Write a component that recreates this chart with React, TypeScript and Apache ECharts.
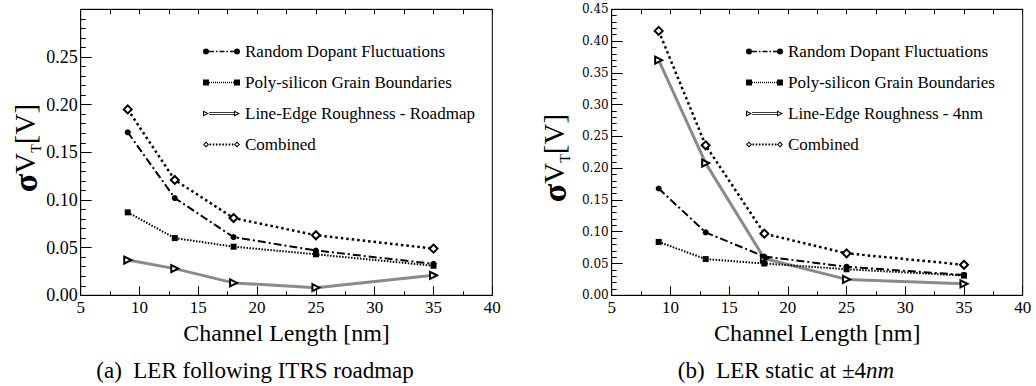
import React, { useEffect, useRef } from "react";
import * as echarts from "echarts";

const channelLengths = [9, 13, 18, 25, 35];
const xTicks = [5, 10, 15, 20, 25, 30, 35, 40];

// (a) LER following ITRS roadmap
const rdfA = [0.171, 0.102, 0.061, 0.047, 0.033];
const pgbA = [0.087, 0.060, 0.051, 0.043, 0.031];
const lerA = [0.037, 0.028, 0.013, 0.008, 0.021];
const combA = [0.195, 0.121, 0.081, 0.063, 0.049];

// (b) LER static at ±4nm
const rdfB = [0.168, 0.099, 0.061, 0.045, 0.032];
const pgbB = [0.084, 0.057, 0.050, 0.041, 0.031];
const lerB = [0.370, 0.208, 0.058, 0.025, 0.018];
const combB = [0.416, 0.236, 0.097, 0.066, 0.048];

const namesA = ["Random Dopant Fluctuations", "Poly-silicon Grain Boundaries", "Line-Edge Roughness - Roadmap", "Combined"];
const namesB = ["Random Dopant Fluctuations", "Poly-silicon Grain Boundaries", "Line-Edge Roughness - 4nm", "Combined"];

const SERIF = "Liberation Serif";

function pairs(ys: number[]) {
  return channelLengths.map((x, i) => [x, ys[i]]);
}

// ---- legend icon path helpers (icon box 37 x 6) ----
const r2 = (n: number) => Math.round(n * 100) / 100;
function rectP(x: number, y: number, w: number, h: number) {
  return `M${r2(x)} ${r2(y)}L${r2(x + w)} ${r2(y)}L${r2(x + w)} ${r2(y + h)}L${r2(x)} ${r2(y + h)}Z`;
}
function circleP(cx: number, cy: number, r: number) {
  return `M${cx - r} ${cy}A${r} ${r} 0 1 0 ${cx + r} ${cy}A${r} ${r} 0 1 0 ${cx - r} ${cy}Z`;
}
function dashP(x0: number, x1: number, cy: number, t: number, pattern: number[]) {
  let s = "";
  let x = x0;
  let i = 0;
  while (x < x1 - 0.2) {
    const len = pattern[i % pattern.length];
    if (i % 2 === 0) {
      const w = Math.min(len, x1 - x);
      s += rectP(x, cy - t / 2, w, t);
    }
    x += len;
    i++;
  }
  return s;
}
function triP(x: number) {
  return `M${x} 0L${x + 6} 3L${x} 6Z` + `M${x + 1} 1.7L${x + 1} 4.3L${x + 3.9} 3Z`;
}
function diaP(x: number) {
  return `M${x + 3} 0L${x + 6} 3L${x + 3} 6L${x} 3Z` + `M${x + 3} 1.4L${x + 1.4} 3L${x + 3} 4.6L${x + 4.6} 3Z`;
}
const legendIcons = [
  "path://" + circleP(3, 3, 3) + dashP(6, 31, 3, 1.6, [5, 2, 1.5, 2]) + circleP(34, 3, 3),
  "path://" + rectP(0, 0, 6, 6) + dashP(6, 31, 3, 1.6, [1, 1]) + rectP(31, 0, 6, 6),
  "path://" + triP(0) + rectP(6, 1.8, 25, 0.7) + rectP(6, 3.5, 25, 0.7) + triP(31),
  "path://" + diaP(0) + dashP(6.5, 31, 3, 2, [1.6, 1.6]) + diaP(31),
];

type Cfg = {
  names: string[];
  data: number[][];
  yMax: number;
  showMaxLabel: boolean;
  yLabelFont: string;
  yLabelSize: number;
  grid: { left: number; right: number; top: number; bottom: number };
  legendLeft: number;
  yNameX: number;
  yNameY: number;
  caption: any;
  captionX: number;
};

function buildOption(c: Cfg) {
  const styles = [
    { line: { type: [8, 3, 2, 3], width: 2, color: "#000" }, symbol: "circle", size: 6, item: { color: "#000" } },
    { line: { type: [1.5, 1.5], width: 2, color: "#000" }, symbol: "rect", size: 6, item: { color: "#000" } },
    { line: { type: "solid", width: 3, color: "#8a8a8a" }, symbol: "emptyTriangle", size: 7, item: { color: "#000", borderWidth: 1 }, rotate: -90 },
    { line: { type: [2.5, 3], width: 2.5, color: "#000" }, symbol: "emptyDiamond", size: 8, item: { color: "#000", borderWidth: 1 } },
  ];
  const series = c.names.map((n, i) => ({
    type: "line",
    name: n,
    xAxisIndex: 0,
    yAxisIndex: 0,
    data: pairs(c.data[i]),
    symbol: styles[i].symbol,
    symbolSize: styles[i].size,
    symbolRotate: (styles[i] as any).rotate || 0,
    showAllSymbol: true,
    lineStyle: styles[i].line,
    itemStyle: styles[i].item,
    emphasis: { disabled: true },
    z: i === 2 ? 1 : 2,
  }));
  const xBase = {
    type: "value",
    min: 5,
    max: 40,
    interval: 5,
    splitLine: { show: false },
    axisLine: { show: true, onZero: false, lineStyle: { color: "#000", width: 1 } },
  };
  return {
    animation: false,
    backgroundColor: "#fff",
    textStyle: { fontFamily: SERIF },
    grid: { ...c.grid, show: true, borderColor: "#000", borderWidth: 1, backgroundColor: "transparent" },
    xAxis: [
      {
        ...xBase,
        position: "bottom",
        axisTick: { show: true, inside: true, length: 9, lineStyle: { color: "#000" } },
        minorTick: { show: true, splitNumber: 2, length: 4, lineStyle: { color: "#000" } },
        axisLabel: {
          show: true,
          margin: 4,
          color: "#000",
          fontFamily: SERIF,
          fontSize: 17,
          formatter: (v: number) => (xTicks.includes(v) ? String(v) : ""),
        },
        name: "Channel Length [nm]",
        nameLocation: "middle",
        nameGap: 19,
        nameTextStyle: { color: "#000", fontFamily: SERIF, fontSize: 24, verticalAlign: "top" },
      },
      {
        ...xBase,
        position: "top",
        axisTick: { show: true, inside: true, length: 5, lineStyle: { color: "#000" } },
        minorTick: { show: true, splitNumber: 2, length: 5, lineStyle: { color: "#000" } },
        axisLabel: { show: false },
      },
    ],
    yAxis: [
      {
        type: "value",
        min: 0,
        max: c.yMax,
        interval: 0.05,
        splitLine: { show: false },
        axisLine: { show: true, onZero: false, lineStyle: { color: "#000", width: 1 } },
        axisTick: { show: true, inside: true, length: 11, lineStyle: { color: "#000" } },
        minorTick: { show: true, splitNumber: 5, length: 5, lineStyle: { color: "#000" } },
        axisLabel: {
          show: true,
          margin: 3,
          color: "#000",
          fontFamily: c.yLabelFont,
          fontSize: c.yLabelSize,
          showMaxLabel: c.showMaxLabel,
          formatter: (v: number) => v.toFixed(2),
        },
      },
    ],
    legend: {
      orient: "vertical",
      left: c.legendLeft,
      top: 38,
      itemWidth: 37,
      itemHeight: 6,
      itemGap: 14,
      symbolKeepAspect: true,
      selectedMode: false,
      itemStyle: { color: "#000", borderWidth: 0 },
      data: c.names.map((n, i) => ({ name: n, icon: legendIcons[i] })),
      textStyle: { color: "#000", fontFamily: SERIF, fontSize: 17, lineHeight: 17 },
    },
    graphic: [
      {
        type: "text",
        x: c.yNameX,
        y: c.yNameY,
        rotation: Math.PI / 2,
        style: {
          text: "{s|σ}{v|V}{t|T}{v|[V]}",
          align: "center",
          verticalAlign: "middle",
          fill: "#000",
          rich: {
            s: { fontFamily: SERIF, fontWeight: "bold", fontSize: 34, lineHeight: 36, fill: "#000" },
            v: { fontFamily: SERIF, fontSize: 29, lineHeight: 36, fill: "#000" },
            t: { fontFamily: SERIF, fontSize: 14, lineHeight: 22, verticalAlign: "bottom", fill: "#000" },
          },
        },
      },
      {
        type: "text",
        x: c.captionX,
        y: 370,
        style: { ...c.caption, align: "center", verticalAlign: "middle", fill: "#000" },
      },
    ],
    series,
  };
}

function Chart({ cfg, left }: { cfg: Cfg; left: number }) {
  const ref = useRef<HTMLDivElement>(null);
  useEffect(() => {
    if (!ref.current) return;
    const chart = echarts.init(ref.current, undefined, { renderer: "svg" });
    chart.setOption(buildOption(cfg) as any);
    return () => chart.dispose();
  }, []);
  return <div ref={ref} style={{ position: "absolute", left, top: 0, width: 518, height: 386 }} />;
}

const cfgA: Cfg = {
  names: namesA,
  data: [rdfA, pgbA, lerA, combA],
  yMax: 0.3,
  showMaxLabel: false,
  yLabelFont: SERIF,
  yLabelSize: 18,
  grid: { left: 80.7, right: 25.7, top: 9.3, bottom: 386 - 295.3 },
  legendLeft: 198,
  yNameX: 25,
  yNameY: 148,
  captionX: 255,
  caption: {
    text: "(a)\u2002LER following ITRS roadmap",
    fontFamily: SERIF,
    fontSize: 23,
  },
};

const cfgB: Cfg = {
  names: namesB,
  data: [rdfB, pgbB, lerB, combB],
  yMax: 0.45,
  showMaxLabel: true,
  yLabelFont: "DejaVu Serif",
  yLabelSize: 12,
  grid: { left: 93.7, right: 13.3, top: 9.3, bottom: 386 - 295.3 },
  legendLeft: 223,
  yNameX: 36,
  yNameY: 158,
  captionX: 268,
  caption: {
    text: "{r|(b)\u2002LER static at ±4}{i|nm}",
    rich: {
      r: { fontFamily: SERIF, fontSize: 23, fill: "#000" },
      i: { fontFamily: SERIF, fontSize: 23, fontStyle: "italic", fill: "#000" },
    },
  },
};

export default function App() {
  return (
    <div style={{ position: "fixed", left: 0, top: 0, width: 1036, height: 386, background: "#fff" }}>
      <Chart cfg={cfgA} left={0} />
      <Chart cfg={cfgB} left={518} />
    </div>
  );
}
